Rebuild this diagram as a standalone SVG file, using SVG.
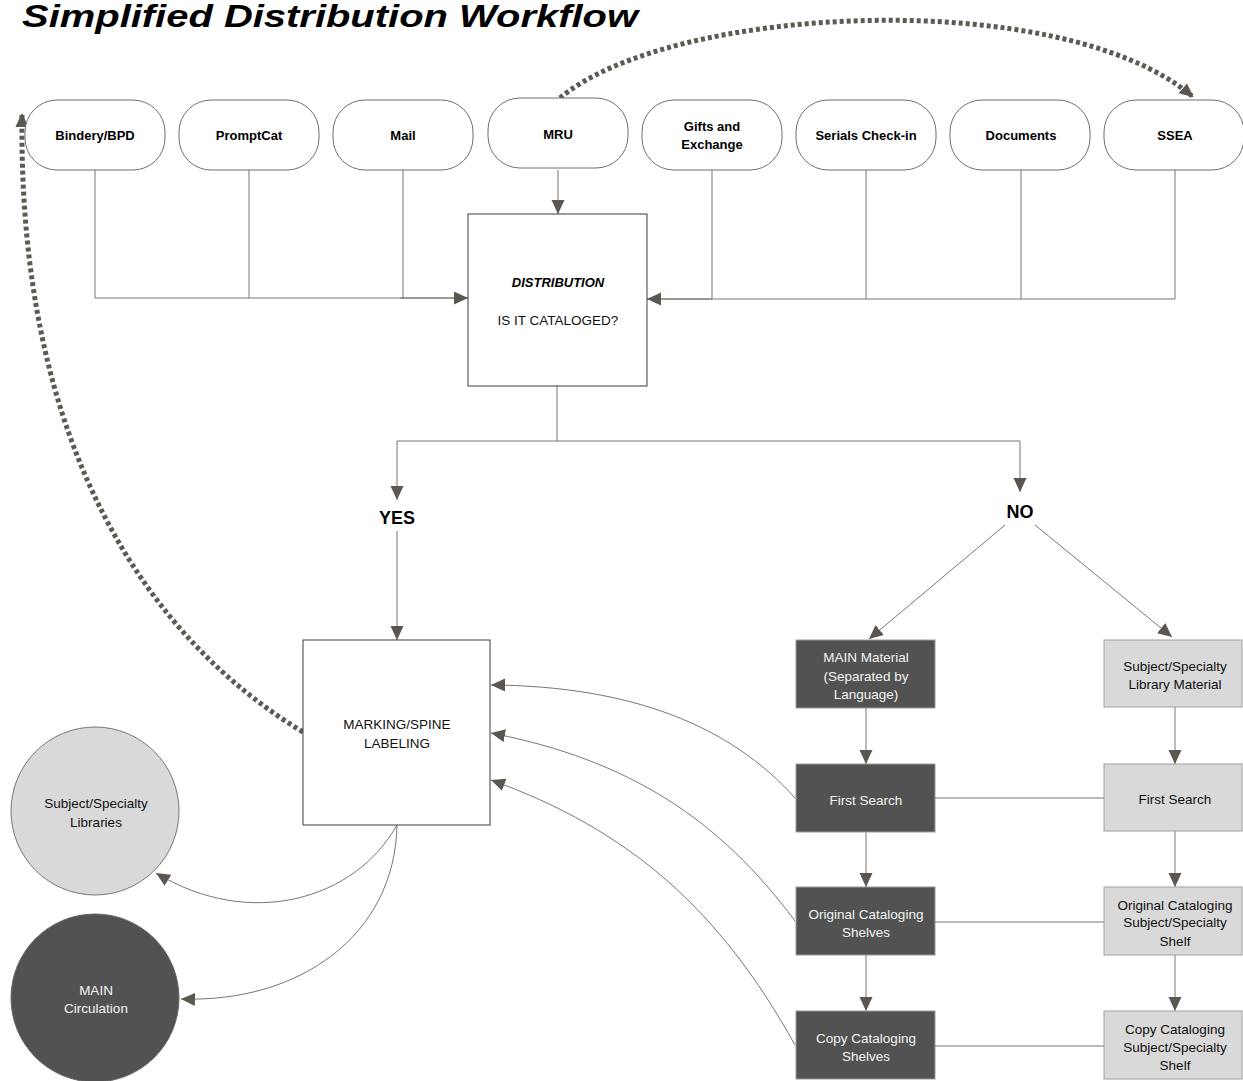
<svg xmlns="http://www.w3.org/2000/svg" width="1243" height="1081" viewBox="0 0 1243 1081">
<style>
text{font-family:"Liberation Sans",Arial,sans-serif;text-anchor:middle}
.pill{fill:#fff;stroke:#6e6e6e;stroke-width:1}
.pt{font-size:13px;font-weight:bold;fill:#000}
.box{fill:#fff;stroke:#3c3c3c;stroke-width:1}
.bt{font-size:13.5px;fill:#111}
.dark{fill:#525252;stroke:#9a9a9a;stroke-width:1}
.dt{font-size:13.5px;fill:#f2f2f2}
.light{fill:#d9d9d9;stroke:#a0a0a0;stroke-width:1}
.lt{font-size:13.5px;fill:#111}
.ln{fill:none;stroke:#7a7770;stroke-width:1}
.ar{fill:none;stroke:#7a7770;stroke-width:1;marker-end:url(#ah)}
.dot{fill:none;stroke:#5e5a53;stroke-width:5;stroke-dasharray:4 3;marker-end:url(#ahd)}
.yn{font-size:18px;font-weight:bold;fill:#000}
</style>
<defs>
<marker id="ah" markerUnits="userSpaceOnUse" markerWidth="16" markerHeight="14" refX="14" refY="6.5" orient="auto" viewBox="0 0 16 14">
<path d="M0,0 L14,6.5 L0,13 Z" fill="#5b5750"/>
</marker>
<marker id="ahd" markerUnits="userSpaceOnUse" markerWidth="16" markerHeight="14" refX="12" refY="6.5" orient="auto" viewBox="0 0 16 14">
<path d="M0,0 L14,6.5 L0,13 Z" fill="#5b5750"/>
</marker>
</defs>
<rect width="1243" height="1081" fill="#fff"/>
<text x="22" y="27" style="text-anchor:start;font-size:31px;font-weight:bold;font-style:italic" textLength="616" lengthAdjust="spacingAndGlyphs" fill="#000">Simplified Distribution Workflow</text>

<g id="connectors">
<path class="ln" d="M95,170 V298 H468"/>
<path class="ar" d="M400,298 H468"/>
<path class="ln" d="M249,170 V298"/>
<path class="ln" d="M403,170 V298"/>
<path class="ar" d="M558,170 V214"/>
<path class="ln" d="M1175,170 V299 H647"/>
<path class="ar" d="M712,299 H647"/>
<path class="ln" d="M712,170 V299"/>
<path class="ln" d="M866,170 V299"/>
<path class="ln" d="M1021,170 V299"/>
<path class="ln" d="M557,386 V441 H1020"/>
<path class="ar" d="M557,441 H397 V500"/>
<path class="ar" d="M1020,441 V492"/>
<path class="ar" d="M397,531 V640"/>
<path class="ar" d="M1005,525 L869,639"/>
<path class="ar" d="M1035,525 L1172,637"/>
<path class="ar" d="M866,708 V764"/>
<path class="ar" d="M866,832 V887"/>
<path class="ar" d="M866,955 V1011"/>
<path class="ar" d="M1175,707 V764"/>
<path class="ar" d="M1175,831 V887"/>
<path class="ar" d="M1175,955 V1011"/>
<path class="ln" d="M935,798 H1104"/>
<path class="ln" d="M935,922 H1104"/>
<path class="ln" d="M935,1046 H1104"/>
<path class="ar" d="M795,798 C730,725 630,686 491,685"/>
<path class="ar" d="M795,921 C720,820 630,760 491,733"/>
<path class="ar" d="M795,1045 C720,910 630,830 491,780"/>
<path class="ar" d="M397,825 C355,900 250,930 156,873"/>
<path class="ar" d="M397,825 C395,935 300,1003 181,999"/>
<path class="dot" d="M303,732 C150,640 18,450 22,115"/>
<path class="dot" d="M560,98 C670,5 1060,-15 1192,96"/>
</g>

<g id="n-bindery"><rect class="pill" x="25" y="100" width="140" height="70" rx="32"/><text class="pt" x="95" y="140">Bindery/BPD</text></g>
<g id="n-promptcat"><rect class="pill" x="179" y="100" width="140" height="70" rx="32"/><text class="pt" x="249" y="140">PromptCat</text></g>
<g id="n-mail"><rect class="pill" x="333" y="100" width="140" height="70" rx="32"/><text class="pt" x="403" y="140">Mail</text></g>
<g id="n-mru"><rect class="pill" x="488" y="98" width="140" height="70" rx="32"/><text class="pt" x="558" y="139">MRU</text></g>
<g id="n-gifts"><rect class="pill" x="642" y="100" width="140" height="70" rx="32"/><text class="pt" x="712" y="131">Gifts and</text><text class="pt" x="712" y="149">Exchange</text></g>
<g id="n-serials"><rect class="pill" x="796" y="100" width="140" height="70" rx="32"/><text class="pt" x="866" y="140">Serials Check-in</text></g>
<g id="n-documents"><rect class="pill" x="950" y="100" width="140" height="70" rx="32"/><text class="pt" x="1021" y="140">Documents</text></g>
<g id="n-ssea"><rect class="pill" x="1104" y="100" width="140" height="70" rx="32"/><text class="pt" x="1175" y="140">SSEA</text></g>

<g id="n-distribution"><rect class="box" x="468" y="214" width="179" height="172"/><text x="558" y="287" style="font-size:13px;font-weight:bold;font-style:italic">DISTRIBUTION</text><text class="bt" x="558" y="325">IS IT CATALOGED?</text></g>

<g id="n-yes"><text class="yn" x="397" y="524">YES</text></g>
<g id="n-no"><text class="yn" x="1020" y="518">NO</text></g>

<g id="n-marking"><rect class="box" x="303" y="640" width="187" height="185"/><text class="bt" x="397" y="729">MARKING/SPINE</text><text class="bt" x="397" y="748">LABELING</text></g>

<g id="n-subjlib"><circle cx="95" cy="811" r="84" fill="#d9d9d9" stroke="#777" stroke-width="1"/><text class="lt" x="96" y="808">Subject/Specialty</text><text class="lt" x="96" y="827">Libraries</text></g>
<g id="n-maincirc"><circle cx="95" cy="998" r="84" fill="#525252" stroke="#666" stroke-width="1"/><text class="dt" x="96" y="995">MAIN</text><text class="dt" x="96" y="1013">Circulation</text></g>

<g id="n-mainmat"><rect class="dark" x="796" y="640" width="139" height="68"/><text class="dt" x="866" y="662">MAIN Material</text><text class="dt" x="866" y="681">(Separated by</text><text class="dt" x="866" y="699">Language)</text></g>
<g id="n-fs1"><rect class="dark" x="796" y="764" width="139" height="68"/><text class="dt" x="866" y="805">First Search</text></g>
<g id="n-orig1"><rect class="dark" x="796" y="887" width="139" height="68"/><text class="dt" x="866" y="919">Original Cataloging</text><text class="dt" x="866" y="937">Shelves</text></g>
<g id="n-copy1"><rect class="dark" x="796" y="1011" width="139" height="68"/><text class="dt" x="866" y="1043">Copy Cataloging</text><text class="dt" x="866" y="1061">Shelves</text></g>

<g id="n-subjmat"><rect class="light" x="1104" y="640" width="138" height="67"/><text class="lt" x="1175" y="671">Subject/Specialty</text><text class="lt" x="1175" y="689">Library Material</text></g>
<g id="n-fs2"><rect class="light" x="1104" y="764" width="138" height="67"/><text class="lt" x="1175" y="804">First Search</text></g>
<g id="n-orig2"><rect class="light" x="1104" y="887" width="138" height="68"/><text class="lt" x="1175" y="910">Original Cataloging</text><text class="lt" x="1175" y="927">Subject/Specialty</text><text class="lt" x="1175" y="946">Shelf</text></g>
<g id="n-copy2"><rect class="light" x="1104" y="1011" width="138" height="68"/><text class="lt" x="1175" y="1034">Copy Cataloging</text><text class="lt" x="1175" y="1052">Subject/Specialty</text><text class="lt" x="1175" y="1070">Shelf</text></g>
</svg>
